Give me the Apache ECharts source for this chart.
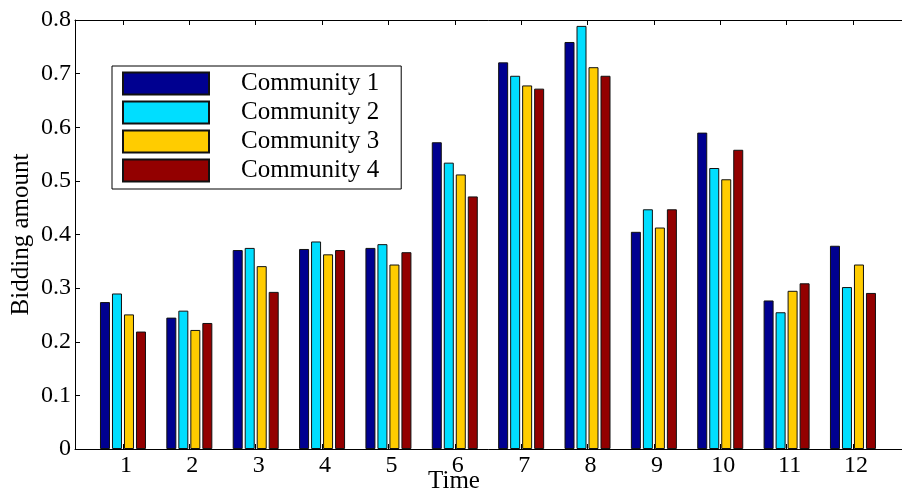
<!DOCTYPE html>
<html>
<head>
<meta charset="utf-8">
<script src="https://cdn.jsdelivr.net/npm/echarts@6/dist/echarts.min.js"></script>
<style>
  html, body { margin: 0; padding: 0; background: #fff; }
  #chart { width: 902px; height: 493px; }
</style>
</head>
<body>
<div id="chart"></div>
<script>
// Time slots along the horizontal axis
const timeSlots = [1, 2, 3, 4, 5, 6, 7, 8, 9, 10, 11, 12];

// Bidding amount per community for each time slot
const community1 = [0.274, 0.245, 0.371, 0.373, 0.375, 0.572, 0.721, 0.759, 0.405, 0.590, 0.277, 0.379];
const community2 = [0.290, 0.258, 0.375, 0.387, 0.382, 0.534, 0.696, 0.789, 0.447, 0.524, 0.255, 0.302];
const community3 = [0.251, 0.222, 0.341, 0.363, 0.344, 0.512, 0.678, 0.712, 0.413, 0.503, 0.295, 0.344];
const community4 = [0.219, 0.235, 0.293, 0.371, 0.367, 0.471, 0.672, 0.696, 0.447, 0.558, 0.309, 0.291];

const seriesNames = ['Community 1', 'Community 2', 'Community 3', 'Community 4'];
const seriesValues = [community1, community2, community3, community4];
const seriesColors = ['#000090', '#00DEFF', '#FFCC00', '#930000'];

const yTicks = [0, 0.1, 0.2, 0.3, 0.4, 0.5, 0.6, 0.7, 0.8];

const FONT = 'Liberation Serif';
const chart = echarts.init(document.getElementById('chart'), null, { renderer: 'canvas' });

const xRange = { min: 0.277, max: 12.754 };

chart.setOption({
  animation: false,
  backgroundColor: '#ffffff',
  grid: { left: 75, right: -1, top: 20, bottom: 44, containLabel: false, outerBoundsMode: 'none' },
  legend: {
    orient: 'vertical',
    left: 112,
    top: 66,
    data: seriesNames,
    icon: 'rect',
    itemWidth: 86,
    itemHeight: 22,
    itemGap: 4,
    backgroundColor: '#ffffff',
    borderColor: '#000000',
    borderWidth: 1,
    borderRadius: 0,
    padding: [5, 22, 6, 10],
    textStyle: {
      fontFamily: FONT,
      fontSize: 25,
      color: '#000',
      padding: [0, 0, 0, 27]
    }
  },
  xAxis: [
    {
      type: 'value',
      position: 'bottom',
      min: xRange.min,
      max: xRange.max,
      name: 'Time',
      nameLocation: 'middle',
      nameGap: 20,
      nameMoveOverlap: false,
      nameTextStyle: { fontFamily: FONT, fontSize: 25, color: '#000', padding: [0, 70, 0, 0] },
      splitLine: { show: false },
      axisLine: { show: true, onZero: false, lineStyle: { color: '#000', width: 1 } },
      axisTick: { show: true, inside: true, length: 5, customValues: timeSlots, lineStyle: { color: '#000' } },
      axisLabel: {
        show: true, customValues: timeSlots, margin: 5,
        fontFamily: FONT, fontSize: 24, color: '#000',
        padding: [0, 0, 0, 6],
        formatter: v => String(Math.round(v))
      }
    },
    {
      type: 'value',
      position: 'top',
      min: xRange.min,
      max: xRange.max,
      splitLine: { show: false },
      axisLine: { show: true, onZero: false, lineStyle: { color: '#000', width: 1 } },
      axisTick: { show: true, inside: true, length: 5, customValues: timeSlots, lineStyle: { color: '#000' } },
      axisLabel: { show: false }
    }
  ],
  yAxis: {
    type: 'value',
    min: 0,
    max: 0.8,
    interval: 0.1,
    name: 'Bidding amount',
    nameLocation: 'middle',
    nameGap: 41,
    nameMoveOverlap: false,
    nameTextStyle: { fontFamily: FONT, fontSize: 25, color: '#000' },
    splitLine: { show: false },
    axisLine: { show: true, lineStyle: { color: '#000', width: 1 } },
    axisTick: { show: true, inside: true, length: 5, lineStyle: { color: '#000' } },
    axisLabel: {
      margin: 4, fontFamily: FONT, fontSize: 24, color: '#000',
      formatter: v => {
        const t = yTicks.find(k => Math.abs(k - v) < 1e-9);
        return t === 0 ? '0' : (t !== undefined ? t.toFixed(1) : '');
      }
    }
  },
  series: seriesNames.map((name, i) => ({
    name: name,
    type: 'bar',
    xAxisIndex: 0,
    barWidth: 10,
    barGap: '20%',
    data: timeSlots.map((t, j) => [t, seriesValues[i][j]]),
    itemStyle: { color: seriesColors[i], borderColor: '#111111', borderWidth: 1 },
    emphasis: { disabled: true }
  }))
});
</script>
</body>
</html>
